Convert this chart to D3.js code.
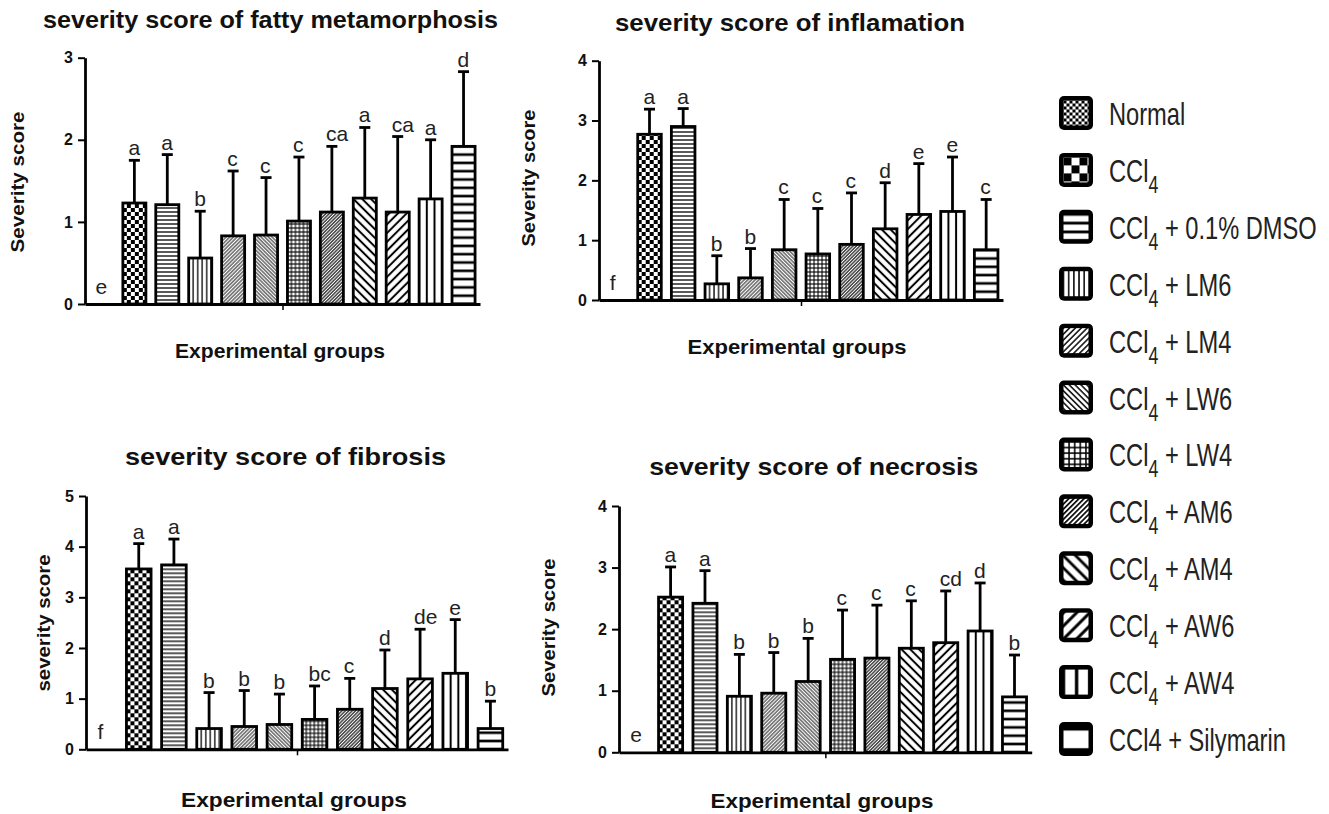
<!DOCTYPE html>
<html>
<head>
<meta charset="utf-8">
<script src="https://cdn.jsdelivr.net/npm/d3@7"></script>
<style>
  html, body { margin: 0; padding: 0; background: #fff; }
  svg { display: block; }
  text { font-family: "Liberation Sans", Arial, sans-serif; }
</style>
</head>
<body>
<svg id="chart" width="1329" height="814"></svg>
<script>
// ---------------- DATA ----------------
const groups = ["Normal", "CCl_4", "CCl_4 + 0.1% DMSO", "CCl_4 + LM6", "CCl_4 + LM4", "CCl_4 + LW6",
                "CCl_4 + LW4", "CCl_4 + AM6", "CCl_4 + AM4", "CCl_4 + AW6", "CCl_4 + AW4", "CCl4 + Silymarin"];

const titles = ["severity score of fatty metamorphosis", "severity score of inflamation",
                "severity score of fibrosis", "severity score of necrosis"];
const yLabels = ["Severity score", "Severity score", "severity score", "Severity score"];
const xLabel = "Experimental groups";

const fattyMean    = [0, 1.23, 1.21, 0.56, 0.83, 0.84, 1.01, 1.12, 1.29, 1.12, 1.28, 1.92];
const fattySD      = [0, 0.52, 0.61, 0.57, 0.79, 0.70, 0.78, 0.80, 0.86, 0.92, 0.72, 0.91];
const fattyLetters = ["e", "a", "a", "b", "c", "c", "c", "ca", "a", "ca", "a", "d"];
const fattyTicks   = [0, 1, 2, 3];

const inflamMean    = [0, 2.77, 2.90, 0.27, 0.37, 0.84, 0.77, 0.93, 1.19, 1.43, 1.48, 0.84];
const inflamSD      = [0, 0.42, 0.30, 0.47, 0.49, 0.84, 0.76, 0.86, 0.77, 0.85, 0.91, 0.84];
const inflamLetters = ["f", "a", "a", "b", "b", "c", "c", "c", "d", "e", "e", "c"];
const inflamTicks   = [0, 1, 2, 3, 4];

const fibrosisMean    = [0, 3.56, 3.64, 0.41, 0.45, 0.49, 0.59, 0.79, 1.20, 1.39, 1.50, 0.41];
const fibrosisSD      = [0, 0.50, 0.51, 0.71, 0.71, 0.60, 0.66, 0.61, 0.76, 0.98, 1.06, 0.54];
const fibrosisLetters = ["f", "a", "a", "b", "b", "b", "bc", "c", "d", "de", "e", "b"];
const fibrosisTicks   = [0, 1, 2, 3, 4, 5];

const necrosisMean    = [0, 2.52, 2.42, 0.91, 0.96, 1.15, 1.51, 1.53, 1.69, 1.78, 1.97, 0.90];
const necrosisSD      = [0, 0.49, 0.53, 0.68, 0.66, 0.70, 0.80, 0.86, 0.77, 0.84, 0.78, 0.68];
const necrosisLetters = ["e", "a", "a", "b", "b", "b", "c", "c", "c", "cd", "d", "b"];
const necrosisTicks   = [0, 1, 2, 3, 4];

// ---------------- LAYOUT / STYLE ----------------
const panels = [
  { mean: fattyMean, sd: fattySD, letters: fattyLetters, ticks: fattyTicks,
    x0: 85, x1: 480, yTop: 57.7, y0: 304,
    tX: 270.5, tY: 28, tW: 455, xlX: 280, xlY: 358, xlW: 210, ylX: 24, ylY: 182, ylW: 141 },
  { mean: inflamMean, sd: inflamSD, letters: inflamLetters, ticks: inflamTicks,
    x0: 599, x1: 1003, yTop: 60.7, y0: 300,
    tX: 790, tY: 31, tW: 350, xlX: 797, xlY: 354, xlW: 219, ylX: 535, ylY: 178, ylW: 137 },
  { mean: fibrosisMean, sd: fibrosisSD, letters: fibrosisLetters, ticks: fibrosisTicks,
    x0: 86, x1: 508, yTop: 496, y0: 749.3,
    tX: 285.5, tY: 465, tW: 321, xlX: 294, xlY: 807, xlW: 226, ylX: 50, ylY: 623, ylW: 137 },
  { mean: necrosisMean, sd: necrosisSD, letters: necrosisLetters, ticks: necrosisTicks,
    x0: 619, x1: 1031.7, yTop: 506, y0: 752.3,
    tX: 813.8, tY: 475, tW: 329, xlX: 822, xlY: 808, xlW: 223, ylX: 555, ylY: 627.5, ylW: 138 }
];

// pattern style per group (bar scale)
const groupStyles = [
  { type: "check", cell: 2 },
  { type: "check", cell: 4 },
  { type: "h", period: 4, lw: 1.3 },
  { type: "v", period: 4.5, lw: 1.3 },
  { type: "d", angle: 45, period: 2.6, lw: 0.9 },
  { type: "d", angle: -45, period: 2.6, lw: 0.9 },
  { type: "grid", period: 4, lw: 1.1 },
  { type: "d", angle: 45, period: 2.4, lw: 1.1 },
  { type: "d", angle: -45, period: 6.2, lw: 2 },
  { type: "d", angle: 45, period: 6.2, lw: 2 },
  { type: "v", period: 7.7, lw: 2 },
  { type: "h", period: 8.3, lw: 2.6 }
];
const legendScale = [1.5, 2, 2.2, 1.15, 1.6, 1.6, 1.4, 1.5, 1.4, 1.5, 1.7, 3.1];

const svg = d3.select("#chart");
const defs = svg.append("defs");

function addPattern(id, style, k, ox, oy) {
  const p = defs.append("pattern").attr("id", id).attr("patternUnits", "userSpaceOnUse")
    .attr("x", ox).attr("y", oy);
  const R = (x, y, w, h) => p.append("rect").attr("x", x).attr("y", y)
    .attr("width", w).attr("height", h).attr("fill", "#000");
  let W, H;
  if (style.type === "check") {
    const c = style.cell * k; W = H = 2 * c;
    p.append("rect").attr("width", W).attr("height", H).attr("fill", "#fff");
    R(0, 0, c, c); R(c, c, c, c);
  } else {
    const P = style.period * k, lw = style.lw * k; W = H = P;
    p.append("rect").attr("width", W).attr("height", H).attr("fill", "#fff");
    if (style.type === "h" || style.type === "grid") { R(0, 0, P, lw / 2); R(0, P - lw / 2, P, lw / 2); }
    if (style.type === "v" || style.type === "grid" || style.type === "d") { R(0, 0, lw / 2, P); R(P - lw / 2, 0, lw / 2, P); }
    if (style.type === "d") p.attr("patternTransform", `rotate(${style.angle} ${ox} ${oy})`);
  }
  p.attr("width", W).attr("height", H);
  return `url(#${id})`;
}

// ---------------- PANELS ----------------
panels.forEach((pn, pi) => {
  const g = svg.append("g");
  const x = d3.scaleBand().domain(groups).range([pn.x0, pn.x1]).paddingInner(0.3).paddingOuter(0.15);
  const yMax = d3.max(pn.ticks);
  const y = d3.scaleLinear().domain([0, yMax]).range([pn.y0, pn.yTop]);

  const rows = groups.map((gr, i) => ({ gr, i, m: pn.mean[i], s: pn.sd[i], l: pn.letters[i] }));

  // bars
  g.selectAll("rect.bar").data(rows.filter(d => d.m > 0)).join("rect")
    .attr("class", "bar")
    .attr("x", d => x(d.gr))
    .attr("y", d => y(d.m))
    .attr("width", x.bandwidth())
    .attr("height", d => y(0) - y(d.m))
    .attr("fill", d => addPattern(`p${pi}_${d.i}`, groupStyles[d.i], 1, x(d.gr), y(0)))
    .attr("stroke", "#000").attr("stroke-width", 2.8);

  // error bars (upper only)
  const eb = g.selectAll("g.eb").data(rows.filter(d => d.s > 0)).join("g").attr("class", "eb");
  eb.append("line")
    .attr("x1", d => x(d.gr) + x.bandwidth() / 2).attr("x2", d => x(d.gr) + x.bandwidth() / 2)
    .attr("y1", d => y(d.m)).attr("y2", d => y(d.m + d.s))
    .attr("stroke", "#000").attr("stroke-width", 2.8);
  eb.append("line")
    .attr("x1", d => x(d.gr) + x.bandwidth() / 2 - 5.5).attr("x2", d => x(d.gr) + x.bandwidth() / 2 + 5.5)
    .attr("y1", d => y(d.m + d.s)).attr("y2", d => y(d.m + d.s))
    .attr("stroke", "#000").attr("stroke-width", 2.8);

  // letters
  g.selectAll("text.lt").data(rows).join("text")
    .attr("class", "lt")
    .attr("x", d => x(d.gr) + x.bandwidth() / 2 - 6)
    .attr("y", d => d.m + d.s > 0 ? y(d.m + d.s) - 5 : y(0) - 10)
    .attr("font-size", 21).attr("fill", "#222")
    .text(d => d.l);

  // y axis
  const ya = g.append("g").attr("transform", `translate(${pn.x0},0)`)
    .call(d3.axisLeft(y).tickValues(pn.ticks).tickFormat(d3.format("d")).tickSize(7).tickSizeOuter(0).tickPadding(5));
  ya.select(".domain").attr("stroke", "#000").attr("stroke-width", 2.8);
  ya.selectAll(".tick line").attr("stroke", "#000").attr("stroke-width", 2);
  ya.selectAll(".tick text").attr("font-size", 16).attr("font-weight", "bold").attr("fill", "#111")
    .attr("font-family", "'Liberation Sans', Arial, sans-serif");

  // x axis (single centre tick)
  const xm = d3.scaleLinear().domain([0, 1]).range([pn.x0, pn.x1]);
  const xa = g.append("g").attr("transform", `translate(0,${pn.y0})`)
    .call(d3.axisBottom(xm).tickValues([0.5]).tickFormat("").tickSize(6).tickSizeOuter(0));
  xa.select(".domain").attr("stroke", "#000").attr("stroke-width", 2.8);
  xa.selectAll(".tick line").attr("stroke", "#000").attr("stroke-width", 1.5);

  // title
  g.append("text").attr("x", pn.tX).attr("y", pn.tY).attr("text-anchor", "middle")
    .attr("font-size", 24).attr("font-weight", "bold").attr("fill", "#111")
    .attr("textLength", pn.tW).attr("lengthAdjust", "spacingAndGlyphs")
    .text(titles[pi]);
  // x label
  g.append("text").attr("x", pn.xlX).attr("y", pn.xlY).attr("text-anchor", "middle")
    .attr("font-size", 21).attr("font-weight", "bold").attr("fill", "#111")
    .attr("textLength", pn.xlW).attr("lengthAdjust", "spacingAndGlyphs")
    .text(xLabel);
  // y label
  g.append("text").attr("transform", `translate(${pn.ylX},${pn.ylY}) rotate(-90)`).attr("text-anchor", "middle")
    .attr("font-size", 19).attr("font-weight", "bold").attr("fill", "#111")
    .attr("textLength", pn.ylW).attr("lengthAdjust", "spacingAndGlyphs")
    .text(yLabels[pi]);
});

// ---------------- LEGEND ----------------
const legY = d3.scalePoint().domain(groups).range([113, 739]);
const lg = svg.append("g");
groups.forEach((gr, i) => {
  const cy = legY(gr);
  lg.append("rect").attr("x", 1059).attr("y", cy - 17).attr("width", 34).attr("height", 34)
    .attr("rx", 5).attr("fill", "#000");
  lg.append("rect").attr("x", 1063.5).attr("y", cy - 12.5).attr("width", 25).attr("height", 25)
    .attr("fill", addPattern(`leg${i}`, groupStyles[i], legendScale[i], 1063.5, cy - 12.5));
  const t = lg.append("text").attr("transform", `translate(1109,${cy + 12}) scale(0.74,1)`)
    .attr("font-size", 32).attr("fill", "#222");
  const m = gr.match(/^(.*?)_(\d)(.*)$/);
  if (m) {
    t.append("tspan").text(m[1]);
    t.append("tspan").attr("font-size", 24).attr("dy", 11).text(m[2]);
    t.append("tspan").attr("dy", -11).text(m[3]);
  } else {
    t.text(gr);
  }
});
</script>
</body>
</html>
